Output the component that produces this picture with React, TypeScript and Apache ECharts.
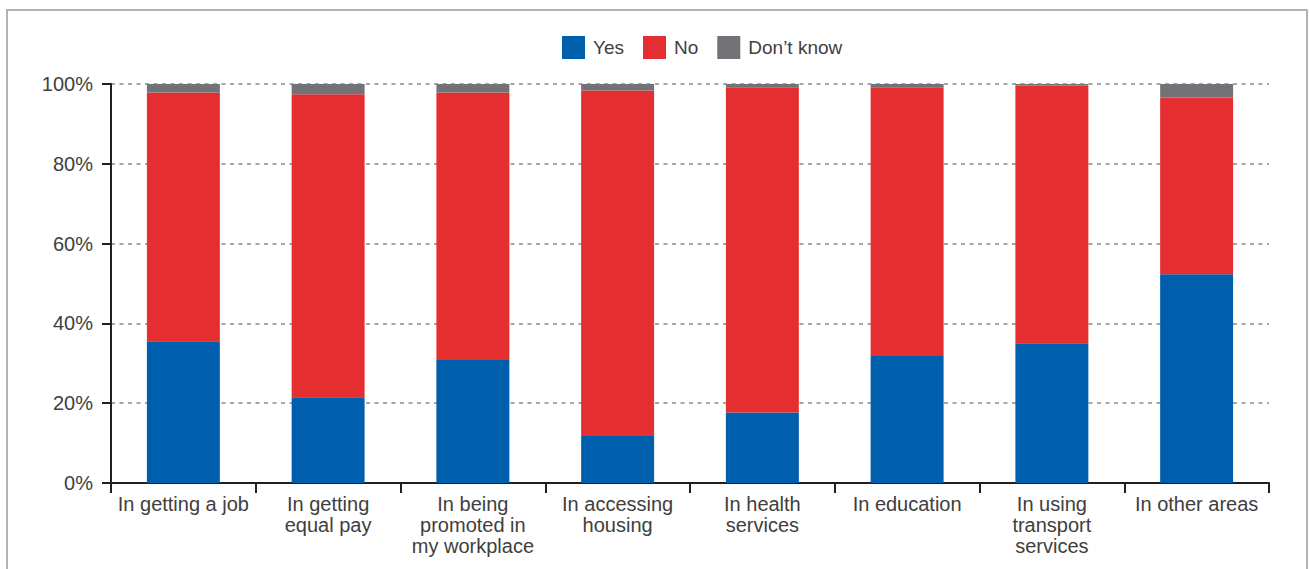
import React, { useEffect, useRef } from "react";
import * as echarts from "echarts";

// Areas of everyday life that respondents were asked about
const categories = [
  "In getting a job",
  "In getting\nequal pay",
  "In being\npromoted in\nmy workplace",
  "In accessing\nhousing",
  "In health\nservices",
  "In education",
  "In using\ntransport\nservices",
  "In other areas",
];

// Share of answers per area, in percent
const yesValues = [35.5, 21.5, 30.8, 11.8, 17.7, 31.8, 35.0, 52.3];
const noValues = [62.4, 75.9, 67.1, 86.6, 81.5, 67.4, 64.6, 44.3];
const dontKnowValues = [2.1, 2.6, 2.1, 1.6, 0.8, 0.8, 0.4, 3.4];

const yTicks = [0, 20, 40, 60, 80, 100];

const FONT = "'Liberation Sans', Arial, Helvetica, sans-serif";
const TEXT_COLOR = "#404040";
const AXIS_COLOR = "#231f20";

export default function App() {
  const ref = useRef<HTMLDivElement>(null);

  useEffect(() => {
    if (!ref.current) return;
    const chart = echarts.init(ref.current, undefined, { renderer: "svg" });

    const bar = (name: string, data: number[], color: string) => ({
      name,
      type: "bar",
      stack: "total",
      barWidth: "50.4%",
      data,
      itemStyle: { color },
      emphasis: { disabled: true },
    });

    chart.setOption({
      animation: false,
      backgroundColor: "#ffffff",
      textStyle: { fontFamily: FONT },
      graphic: [
        {
          type: "rect",
          shape: { x: 7, y: 10, width: 1300, height: 620 },
          style: { fill: "none", stroke: "#b3b3b3", lineWidth: 2 },
          silent: true,
          z: -10,
        },
      ],
      legend: {
        left: 562,
        top: 36,
        padding: 0,
        itemWidth: 23,
        itemHeight: 23,
        itemGap: 19,
        icon: "rect",
        selectedMode: false,
        textStyle: {
          fontFamily: FONT,
          fontSize: 19,
          color: TEXT_COLOR,
          padding: [0, 0, 0, 3],
        },
        data: ["Yes", "No", "Don\u2019t know"],
      },
      grid: {
        left: 111,
        right: 40,
        top: 84,
        bottom: 86,
        containLabel: false,
      },
      xAxis: {
        type: "category",
        data: categories,
        boundaryGap: true,
        axisLine: { show: true, lineStyle: { color: AXIS_COLOR, width: 2 } },
        axisTick: {
          show: true,
          length: 10,
          alignWithLabel: false,
          lineStyle: { color: AXIS_COLOR, width: 2 },
        },
        axisLabel: {
          interval: 0,
          margin: 10,
          fontFamily: FONT,
          fontSize: 20,
          lineHeight: 21,
          color: TEXT_COLOR,
          align: "center",
        },
      },
      yAxis: {
        type: "value",
        min: yTicks[0],
        max: yTicks[yTicks.length - 1],
        interval: 20,
        axisLine: { show: true, lineStyle: { color: AXIS_COLOR, width: 2 } },
        axisTick: {
          show: true,
          length: 9,
          lineStyle: { color: AXIS_COLOR, width: 2 },
        },
        axisLabel: {
          margin: 18,
          fontFamily: FONT,
          fontSize: 20,
          color: TEXT_COLOR,
          formatter: "{value}%",
        },
        splitLine: {
          show: true,
          lineStyle: { color: "#a6a6a6", width: 2, type: [4, 4.5] },
        },
      },
      series: [
        bar("Yes", yesValues, "#005fad"),
        bar("No", noValues, "#e52e2f"),
        bar("Don\u2019t know", dontKnowValues, "#737277"),
      ],
    });

    return () => chart.dispose();
  }, []);

  return (
    <div
      ref={ref}
      style={{
        position: "fixed",
        left: 0,
        top: 0,
        width: 1309,
        height: 569,
        overflow: "hidden",
      }}
    />
  );
}
